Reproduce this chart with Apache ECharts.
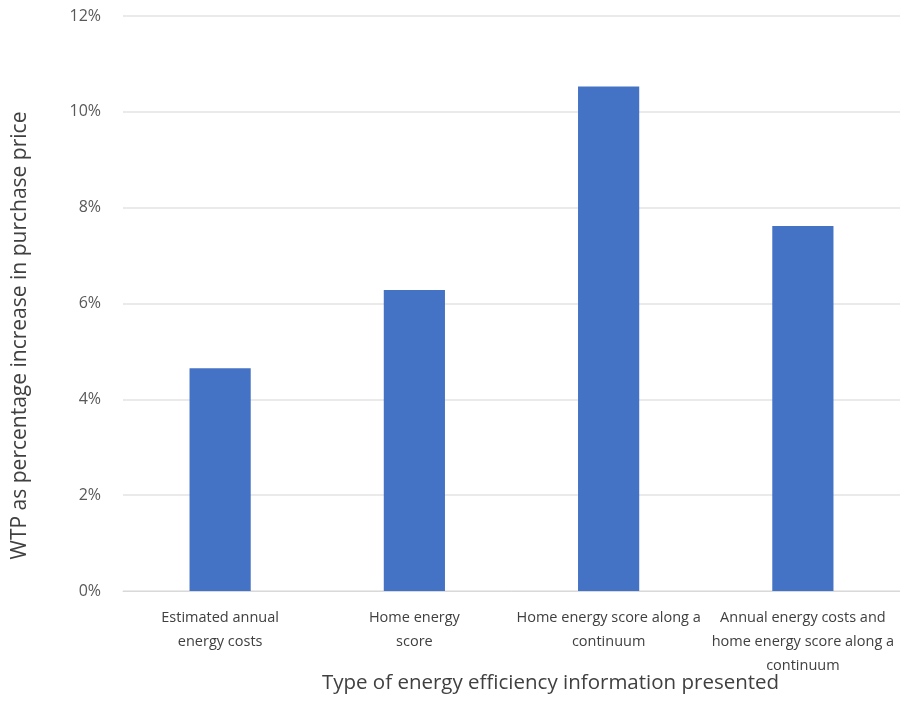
<!DOCTYPE html>
<html>
<head>
<meta charset="utf-8">
<script src="https://cdn.jsdelivr.net/npm/echarts@6/dist/echarts.min.js"></script>
<style>html,body{margin:0;padding:0;background:#fff}#c{width:900px;height:702px}</style>
</head>
<body>
<div id="c"></div>
<script>
const categories = [
  "Estimated annual\nenergy costs",
  "Home energy\nscore",
  "Home energy score along a\ncontinuum",
  "Annual energy costs and\nhome energy score along a\ncontinuum"
];
const values = [4.65, 6.28, 10.53, 7.62];
const yTicks = [0, 2, 4, 6, 8, 10, 12];

const chart = echarts.init(document.getElementById('c'));
chart.setOption({
  animation: false,
  grid: { left: 123, right: 0, top: 16, bottom: 111, outerBoundsMode: 'none', containLabel: false },
  xAxis: {
    type: 'category',
    data: categories,
    name: 'Type of energy efficiency information presented',
    nameLocation: 'middle',
    nameGap: 82,
    nameMoveOverlap: false,
    nameTextStyle: { fontFamily: 'Open Sans', fontSize: 20.5, color: '#404040', padding: [0, 0, 0, 78] },
    axisLine: { show: true, lineStyle: { color: '#d9d9d9' } },
    axisTick: { show: false },
    axisLabel: { fontFamily: 'Open Sans', fontSize: 14.5, color: '#404040', lineHeight: 24, margin: 15, interval: 0 }
  },
  yAxis: {
    type: 'value',
    min: 0, max: 12, interval: 2,
    name: 'WTP as percentage increase in purchase price',
    nameLocation: 'middle',
    nameGap: 92,
    nameMoveOverlap: false,
    nameTextStyle: { fontFamily: 'Open Sans', fontSize: 21, color: '#404040', padding: [0, 64, 0, 0] },
    axisLine: { show: false },
    axisTick: { show: false },
    axisLabel: { fontFamily: 'Open Sans', fontSize: 16, color: '#595959', margin: 22, formatter: v => yTicks.includes(v) ? v + '%' : '' },
    splitLine: { lineStyle: { color: '#e3e3e3', width: 1.5 } }
  },
  series: [{
    type: 'bar',
    data: values,
    barWidth: '31.5%',
    itemStyle: { color: '#4472C4' }
  }]
});
</script>
</body>
</html>
